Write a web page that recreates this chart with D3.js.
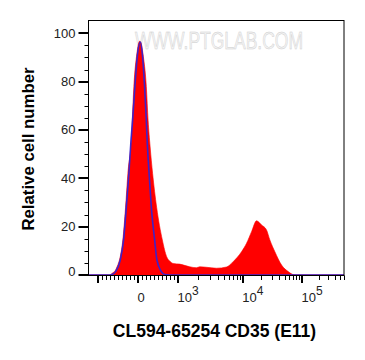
<!DOCTYPE html>
<html>
<head>
<meta charset="utf-8">
<script src="https://cdn.jsdelivr.net/npm/d3@7"></script>
<style>
  html, body { margin: 0; padding: 0; background: #fff; }
  svg { display: block; }
  text { font-family: Arial, "Liberation Sans", sans-serif; }
</style>
</head>
<body>
<svg id="chart" width="365" height="360"></svg>
<script>
// ---------- data ----------
// fluorescence intensity (x) and relative cell number (y)
const sampleX = [-1394, -716, -641, -565, -528, -447, -382, -314, -256, -171, -146, -106, -30, 38, 75, 121, 206, 251, 302, 364, 465, 608, 716, 791, 874, 1060, 1496, 1887, 2117, 2683, 3831, 5491, 6987, 9530, 11490, 13860, 16740, 20270, 24560, 27910, 33940, 44170, 57500, 75200, 602000];
const sampleY = [0, 0, 0.8, 2, 3.4, 7.6, 14.5, 28, 42, 56, 64, 78, 91.6, 96.7, 96, 91.6, 78, 64, 53, 42, 28, 14.5, 7.6, 5.8, 4.8, 4.5, 3.4, 3.0, 3.4, 3.2, 2.8, 3.3, 5.5, 9.6, 13.1, 17.9, 22.4, 20.7, 18.6, 14.5, 9.6, 4.1, 1.4, 0, 0];
const controlX = [-1394, -716, -641, -565, -447, -364, -296, -231, -176, -138, -80, -13, 55, 106, 163, 206, 226, 276, 332, 415, 472, 583, 666, 791, 602000];
const controlY = [0, 0, 0.3, 1.4, 6.2, 14.5, 28, 42, 56, 64, 78, 91.6, 96.4, 91.6, 78, 64, 56, 42, 28, 14.5, 6.2, 1.4, 0.2, 0, 0];

const xDomain = [-1394, 602000];
const xMajorTicks = [-1000, 0, 1000, 10000, 100000];
const xTickLabels = [null, ["0", null], ["10", "3"], ["10", "4"], ["10", "5"]];
const yDomain = [0, 100];
const yMajorTicks = [0, 20, 40, 60, 80, 100];
const yTickLabels = ["0", "20", "40", "60", "80", "100"];
const yMinorStep = 5;
const xTitle = "CL594-65254 CD35 (E11)";
const yTitle = "Relative cell number";
const watermark = "WWW.PTGLAB.COM";

// ---------- scales ----------
// biexponential-like display transform: linear near zero, log above 10^3
function biex(v) {
  const a = Math.abs(v);
  if (a <= 1000) return v / 1000;
  const u = Math.log10(a / 1000);
  return Math.sign(v) * (1 + 1.698 * u - 0.072 * u * u);
}
const L = 88.5, R = 344, T = 20.5, B = 275.5;
const xLin = d3.scaleLinear().domain(xDomain.map(biex)).range([L, R]);
const x = v => xLin(biex(v));
const y = d3.scaleLinear().domain(yDomain).range([275, 33.3]);

const svg = d3.select("#chart");

// watermark (behind data)
svg.append("text")
  .attr("x", 135).attr("y", 48.5)
  .attr("textLength", 168).attr("lengthAdjust", "spacingAndGlyphs")
  .attr("font-size", 24)
  .attr("fill", "#f4f4f4").attr("stroke", "#cdcdcd").attr("stroke-width", 0.5)
  .text(watermark);

// sample histogram (red filled)
const sample = sampleX.map((d, i) => [d, sampleY[i]]);
const area = d3.area().x(d => x(d[0])).y0(y(0)).y1(d => y(d[1])).curve(d3.curveMonotoneX);
svg.append("path").datum(sample).attr("d", area)
  .attr("fill", "#ff0000").attr("stroke", "#ff0000").attr("stroke-width", 0.6);

// control histogram (blue line)
const control = controlX.map((d, i) => [d, controlY[i]]);
const line = d3.line().x(d => x(d[0])).y(d => y(d[1])).curve(d3.curveMonotoneX);
svg.append("path").datum(control).attr("d", line)
  .attr("fill", "none").attr("stroke", "#3524d2").attr("stroke-opacity", 0.95).attr("stroke-width", 1.6);

// frame
svg.append("rect").attr("x", L).attr("y", T).attr("width", R - L).attr("height", B - T)
  .attr("fill", "none").attr("stroke", "#000").attr("stroke-width", 1);

// y axis ticks
const yMinor = d3.range(yDomain[0], yDomain[1] + 0.01, yMinorStep).filter(v => v % 20 !== 0);
svg.selectAll(".ymin").data(yMinor).join("line")
  .attr("x1", L - 4).attr("x2", L).attr("y1", d => Math.round(y(d)) + 0.5).attr("y2", d => Math.round(y(d)) + 0.5)
  .attr("stroke", "#000").attr("stroke-width", 1);
svg.selectAll(".ymaj").data(yMajorTicks).join("line")
  .attr("x1", L - 10).attr("x2", L).attr("y1", d => Math.round(y(d))).attr("y2", d => Math.round(y(d)))
  .attr("stroke", "#000").attr("stroke-width", 2);
svg.selectAll(".ylab").data(yMajorTicks).join("text")
  .attr("x", 75.5).attr("y", d => Math.min(y(d), 271.5))
  .attr("text-anchor", "end").attr("dominant-baseline", "central")
  .attr("font-size", 13).attr("fill", "#222")
  .text((d, i) => yTickLabels[i]);

// x axis ticks
const xMinor = [];
d3.range(-900, 1000, 100).forEach(v => { if (v !== 0) xMinor.push(v); });
[1000, 10000, 100000].forEach(dec => d3.range(2, 10).forEach(k => xMinor.push(k * dec)));
const xMinorIn = xMinor.filter(v => v > xDomain[0] && v < xDomain[1]);
svg.selectAll(".xmin").data(xMinorIn).join("line")
  .attr("x1", d => Math.round(x(d)) + 0.5).attr("x2", d => Math.round(x(d)) + 0.5)
  .attr("y1", B).attr("y2", B + 4.5)
  .attr("stroke", "#000").attr("stroke-width", 1);
svg.selectAll(".xmaj").data(xMajorTicks).join("line")
  .attr("x1", d => Math.round(x(d))).attr("x2", d => Math.round(x(d)))
  .attr("y1", B).attr("y2", B + 7.5)
  .attr("stroke", "#000").attr("stroke-width", 2);
const xl = svg.selectAll(".xlab").data(xMajorTicks.map((d, i) => [d, xTickLabels[i]]).filter(d => d[1]))
  .join("text")
  .attr("x", d => x(d[0]) - 0.5).attr("y", 302)
  .attr("text-anchor", "start").attr("font-size", 13).attr("fill", "#222");
xl.append("tspan").text(d => d[1][0]);
xl.filter(d => d[1][1]).append("tspan").attr("dy", -7).attr("font-size", 12).text(d => d[1][1]);

// titles
svg.append("text")
  .attr("x", 214.5).attr("y", 337)
  .attr("text-anchor", "middle").attr("font-size", 17.5).attr("font-weight", "bold").attr("fill", "#000")
  .text(xTitle);
svg.append("text")
  .attr("transform", "translate(34,149) rotate(-90)")
  .attr("text-anchor", "middle").attr("font-size", 16.8).attr("font-weight", "bold").attr("fill", "#000")
  .text(yTitle);
</script>
</body>
</html>
